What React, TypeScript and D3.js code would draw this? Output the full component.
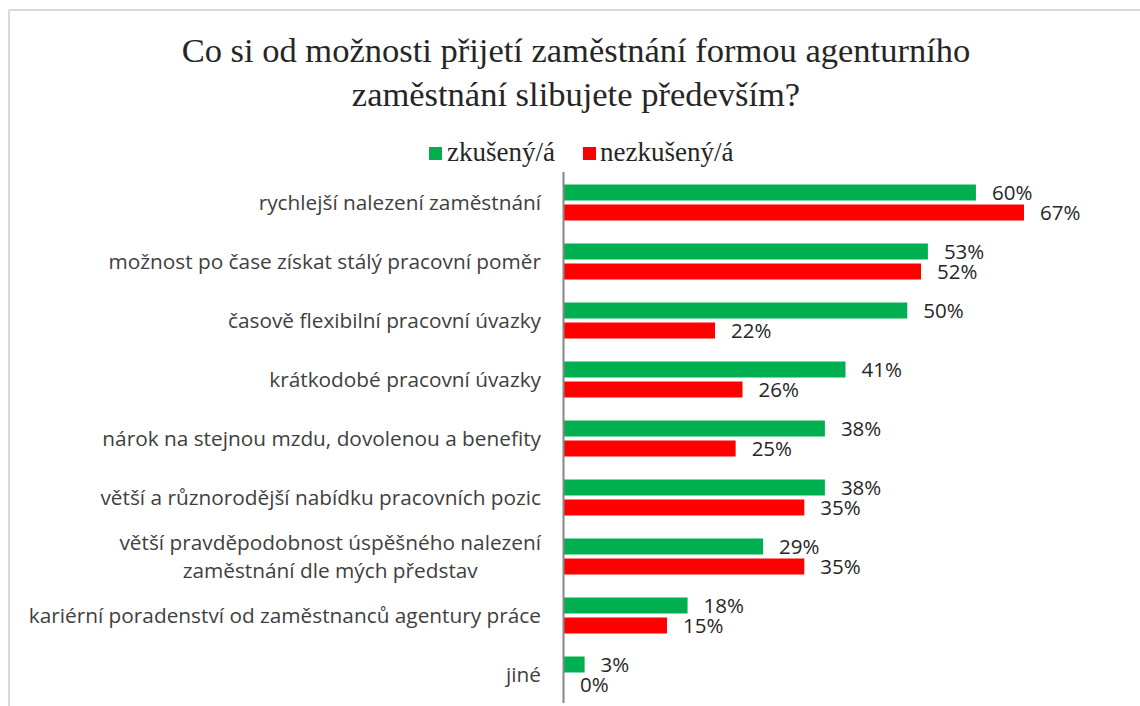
import React from 'react'
import * as d3 from 'd3'

const categories = [
  'rychlejší nalezení zaměstnání',
  'možnost po čase získat stálý pracovní poměr',
  'časově flexibilní pracovní úvazky',
  'krátkodobé pracovní úvazky',
  'nárok na stejnou mzdu, dovolenou a benefity',
  'větší a různorodější nabídku pracovních pozic',
  'větší pravděpodobnost úspěšného nalezení\nzaměstnání dle mých představ',
  'kariérní poradenství od zaměstnanců agentury práce',
  'jiné',
]
const seriesNames = ['zkušený/á', 'nezkušený/á']
const experienced = [60, 53, 50, 41, 38, 38, 29, 18, 3]
const inexperienced = [67, 52, 22, 26, 25, 35, 35, 15, 0]
const seriesColors = ['#00b050', '#ff0000']

const W = 1140
const H = 706
const x0 = 564

const sans = "'Open Sans', sans-serif"
const serif = "'Liberation Serif', 'Times New Roman', serif"

export default function App() {
  const x = d3.scaleLinear().domain([0, 67]).range([x0, 1024])
  const y = d3.scaleBand<string>()
    .domain(categories)
    .range([173, 704])
    .paddingInner(23 / 59)
    .paddingOuter(23 / 118)
  const inner = d3.scaleBand<string>()
    .domain(seriesNames)
    .range([0, y.bandwidth()])
    .paddingInner(0.2)

  const values = [experienced, inexperienced]

  return (
    <svg width={W} height={H} style={{ position: 'absolute', left: 0, top: 0 }}>
      <rect x={0} y={0} width={W} height={H} fill="#fff" />
      <line x1={9} x2={W} y1={10} y2={10} stroke="#d9d9d9" strokeWidth={2} />
      <line x1={9} x2={9} y1={10} y2={H} stroke="#d9d9d9" strokeWidth={2} />

      <text x={576} y={62} textAnchor="middle" fontFamily={serif} fontSize={34.5} fill="#262626">
        Co si od možnosti přijetí zaměstnání formou agenturního
      </text>
      <text x={576} y={106} textAnchor="middle" fontFamily={serif} fontSize={34.5} fill="#262626">
        zaměstnání slibujete především?
      </text>

      {/* legend */}
      <g>
        <rect x={429} y={147} width={13} height={13} fill={seriesColors[0]} />
        <text x={447} y={161} fontFamily={serif} fontSize={27} fill="#262626">{seriesNames[0]}</text>
        <rect x={583} y={147} width={13} height={13} fill={seriesColors[1]} />
        <text x={600} y={161} fontFamily={serif} fontSize={27} fill="#262626">{seriesNames[1]}</text>
      </g>

      {/* bars */}
      {values.map((vals, si) => (
        <g key={si}>
          {categories.map((c, i) => {
            const by = (y(c) ?? 0) + (inner(seriesNames[si]) ?? 0)
            return (
              <g key={c}>
                <rect x={x(0)} y={by} width={x(vals[i]) - x(0)} height={inner.bandwidth()} fill={seriesColors[si]} />
                <text x={x(vals[i]) + 16} y={by + inner.bandwidth() / 2} dy="0.36em"
                  fontFamily={sans} fontSize={20.5} fill="#262626">{vals[i]}%</text>
              </g>
            )
          })}
        </g>
      ))}

      {/* axis */}
      <line x1={x0 - 0.5} x2={x0 - 0.5} y1={172} y2={703} stroke="#868686" strokeWidth={2} />

      {/* category labels */}
      {categories.map(c => {
        const lines = c.split('\n')
        const cy = (y(c) ?? 0) + y.bandwidth() / 2
        const lh = 28
        if (lines.length === 1) {
          return (
            <text key={c} x={541} y={cy} dy="0.36em" textAnchor="end" fontFamily={sans} fontSize={20.8} fill="#404040">{c}</text>
          )
        }
        return (
          <text key={c} x={541} y={cy} textAnchor="middle" fontFamily={sans} fontSize={20.8} fill="#404040"
            ref={node => {
              if (!node) return
              const tspans = d3.select(node).selectAll<SVGTSpanElement, unknown>('tspan').nodes()
              const widest = d3.max(tspans, t => t.getComputedTextLength()) ?? 0
              d3.select(node).selectAll('tspan').attr('x', 541 - widest / 2)
            }}>
            {lines.map((l, li) => (
              <tspan key={li} x={541} y={cy + (li - (lines.length - 1) / 2) * lh} dy="0.36em">{l}</tspan>
            ))}
          </text>
        )
      })}
    </svg>
  )
}
